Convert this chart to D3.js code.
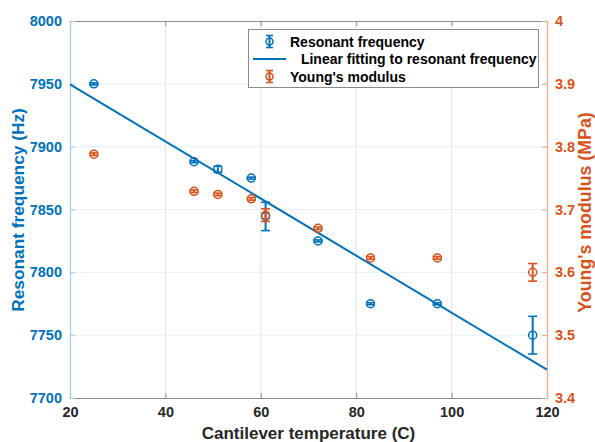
<!DOCTYPE html>
<html>
<head>
<meta charset="utf-8">
<script src="https://cdn.jsdelivr.net/npm/d3@7"></script>
<style>
  html, body { margin: 0; padding: 0; background: #fff; }
  svg { display: block; font-family: "Liberation Sans", Arial, Helvetica, sans-serif; font-weight: bold; }
</style>
</head>
<body>
<svg id="chart" width="595" height="442"></svg>
<script>
// data
const temps = [25, 46, 51, 58, 61, 72, 83, 97, 117];
const freq = [7950, 7888, 7882, 7875, 7844.5, 7825, 7775, 7775, 7750];
const freqErr = [0.8, 0.8, 2.5, 0.8, 11.3, 0.8, 0.8, 0.8, 15];
const modulus = [3.788, 3.729, 3.724, 3.717, 3.691, 3.670, 3.623, 3.623, 3.600];
const modulusErr = [0.002, 0.002, 0.002, 0.002, 0.010, 0.002, 0.002, 0.002, 0.014];
const fitX = [20, 120];
const fitY = [7949.5, 7722.5];

const xTicks = [20, 40, 60, 80, 100, 120];
const leftTicks = [7700, 7750, 7800, 7850, 7900, 7950, 8000];
const rightTicks = [3.4, 3.5, 3.6, 3.7, 3.8, 3.9, 4];
const legendLabels = ["Resonant frequency", " Linear fitting to resonant frequency", "Young's modulus"];

const BLUE = "#0072BD";
const ORANGE = "#D95319";

const svg = d3.select("#chart");
const m = { left: 70, right: 547, top: 21, bottom: 398 };

const x = d3.scaleLinear().domain([20, 120]).range([m.left, m.right]);
const yL = d3.scaleLinear().domain([7700, 8000]).range([m.bottom, m.top]);
const yR = d3.scaleLinear().domain([3.4, 4]).range([m.bottom, m.top]);

// grid
const grid = svg.append("g");
grid.selectAll("line.vx").data(xTicks.slice(1, -1)).join("line")
  .attr("x1", d => x(d)).attr("x2", d => x(d))
  .attr("y1", m.top).attr("y2", m.bottom)
  .attr("stroke", "#e3e3e3").attr("stroke-width", 1);
grid.selectAll("line.hy").data(leftTicks.slice(1, -1)).join("line")
  .attr("x1", m.left).attr("x2", m.right)
  .attr("y1", d => yL(d)).attr("y2", d => yL(d))
  .attr("stroke", "#e2f0f8").attr("stroke-width", 1);

// axes
const xAxis = svg.append("g").attr("transform", `translate(0,${m.bottom})`)
  .call(d3.axisBottom(x).tickValues(xTicks).tickSize(-5).tickPadding(9));
const xTop = svg.append("g").attr("transform", `translate(0,${m.top})`)
  .call(d3.axisTop(x).tickValues(xTicks).tickSize(-5).tickFormat(""));
[xAxis, xTop].forEach(g => {
  g.select(".domain").attr("stroke", "#8c8c8c").attr("stroke-width", 1.2);
  g.selectAll(".tick line").attr("stroke", "#8c8c8c");
});
xAxis.selectAll("text").attr("fill", "#262626").attr("font-size", 14.5).attr("font-family", null);

const lAxis = svg.append("g").attr("transform", `translate(${m.left},0)`)
  .call(d3.axisLeft(yL).tickValues(leftTicks).tickSize(-5).tickPadding(8).tickFormat(d3.format("d")));
lAxis.select(".domain").attr("stroke", "#9fcbe6").attr("stroke-width", 1.2);
lAxis.selectAll(".tick line").attr("stroke", "#9fcbe6");
lAxis.selectAll("text").attr("fill", BLUE).attr("font-size", 14.5).attr("font-family", null);

const rAxis = svg.append("g").attr("transform", `translate(${m.right},0)`)
  .call(d3.axisRight(yR).tickValues(rightTicks).tickSize(-5).tickPadding(8).tickFormat(d => d === 4 ? "4" : d3.format(".1f")(d)));
rAxis.select(".domain").attr("stroke", "#eea989").attr("stroke-width", 1.2);
rAxis.selectAll(".tick line").attr("stroke", "#eea989");
rAxis.selectAll("text").attr("fill", ORANGE).attr("font-size", 14.5).attr("font-family", null);

// axis labels
svg.append("text").attr("x", 308.5).attr("y", 439)
  .attr("text-anchor", "middle").attr("font-size", 17).attr("fill", "#262626")
  .text("Cantilever temperature (C)");
svg.append("text").attr("transform", "translate(24,210) rotate(-90)")
  .attr("text-anchor", "middle").attr("font-size", 17.3).attr("fill", BLUE)
  .text("Resonant frequency (Hz)");
svg.append("text").attr("transform", "translate(591,212.5) rotate(-90)")
  .attr("text-anchor", "middle").attr("font-size", 17.8).attr("fill", ORANGE)
  .text("Young's modulus (MPa)");

// fit line
const line = d3.line().x(d => x(d[0])).y(d => yL(d[1]));
svg.append("path").datum(d3.zip(fitX, fitY))
  .attr("d", line).attr("fill", "none").attr("stroke", BLUE).attr("stroke-width", 2);

// error bars + markers
function drawSeries(vals, errs, yScale, color) {
  const g = svg.append("g").attr("stroke", color).attr("fill", "none");
  temps.forEach((t, i) => {
    const cx = x(t), y0 = yScale(vals[i] - errs[i]), y1 = yScale(vals[i] + errs[i]);
    g.append("line").attr("x1", cx).attr("x2", cx).attr("y1", y0).attr("y2", y1).attr("stroke-width", 2);
    [y0, y1].forEach(yy => g.append("line")
      .attr("x1", cx - 4.5).attr("x2", cx + 4.5).attr("y1", yy).attr("y2", yy).attr("stroke-width", 1.6));
    g.append("circle").attr("cx", cx).attr("cy", yScale(vals[i])).attr("r", 4).attr("stroke-width", 1.5);
  });
}
drawSeries(freq, freqErr, yL, BLUE);
drawSeries(modulus, modulusErr, yR, ORANGE);

// legend
const lg = svg.append("g");
lg.append("rect").attr("x", 248.5).attr("y", 29.5).attr("width", 290).attr("height", 58)
  .attr("fill", "#fff").attr("stroke", "#8a8a8a").attr("stroke-width", 1);
const rows = [41.5, 59, 76.5];
const colors = [BLUE, BLUE, ORANGE];
legendLabels.forEach((lab, i) => {
  const yy = rows[i];
  if (i === 1) {
    lg.append("line").attr("x1", 253).attr("x2", 286).attr("y1", yy).attr("y2", yy)
      .attr("stroke", BLUE).attr("stroke-width", 2);
  } else {
    const c = colors[i];
    lg.append("line").attr("x1", 269.5).attr("x2", 269.5).attr("y1", yy - 6).attr("y2", yy + 6)
      .attr("stroke", c).attr("stroke-width", 2);
    [yy - 6, yy + 6].forEach(v => lg.append("line").attr("x1", 266).attr("x2", 273)
      .attr("y1", v).attr("y2", v).attr("stroke", c).attr("stroke-width", 1.6));
    lg.append("circle").attr("cx", 269.5).attr("cy", yy).attr("r", 3.5)
      .attr("fill", "none").attr("stroke", c).attr("stroke-width", 1.5);
  }
  lg.append("text").attr("x", i === 1 ? 297 : 290).attr("y", yy + 5).attr("font-size", 14)
    .attr("fill", "#000").attr("xml:space", "preserve").style("white-space", "pre").text(lab);
});
</script>
</body>
</html>
